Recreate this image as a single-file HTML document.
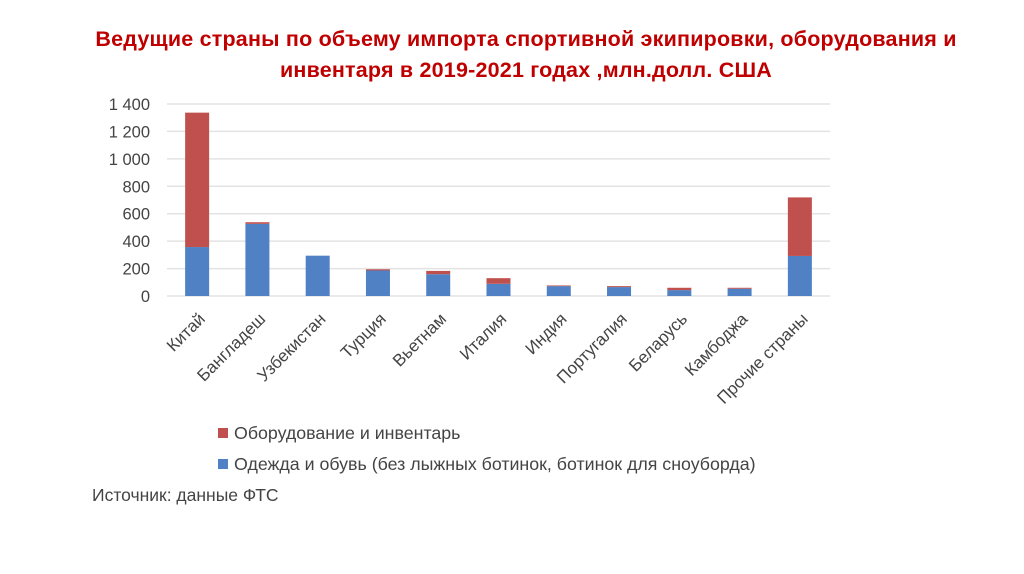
<!DOCTYPE html>
<html><head><meta charset="utf-8">
<style>
body{margin:0;width:1024px;height:574px;background:#fff;overflow:hidden;font-family:"Liberation Sans","DejaVu Sans",sans-serif;position:relative}
.title{position:absolute;left:0;width:1052px;top:24px;text-align:center;color:#c00000;font-weight:bold;font-size:21.5px;line-height:31px;letter-spacing:0.2px}
.leg{position:absolute;left:218px;font-size:17.8px;color:#444}
.leg span{display:inline-block;width:10px;height:10px;margin-right:6px;vertical-align:1px}
.src{position:absolute;left:92px;top:485px;font-size:17.5px;color:#444}
</style></head><body>
<div class="title">Ведущие страны по объему импорта спортивной экипировки, оборудования и<br>инвентаря в 2019-2021 годах ,млн.долл. США</div>
<svg id="chart" width="1024" height="420" style="position:absolute;left:0;top:0"></svg>
<div class="leg" style="top:423px"><span style="background:#c0504d"></span>Оборудование и инвентарь</div>
<div class="leg" style="top:454px"><span style="background:#4f81c4"></span>Одежда и обувь (без лыжных ботинок, ботинок для сноуборда)</div>
<div class="src">Источник: данные ФТС</div>
<script>
const categories=["Китай","Бангладеш","Узбекистан","Турция","Вьетнам","Италия","Индия","Португалия","Беларусь","Камбоджа","Прочие страны"];
const clothing=[357,526,294,186,159,89,72,65,43,53,292];
const equipment=[980,12,0,9,24,41,5,7,17,7,427];
const ticks=[0,200,400,600,800,1000,1200,1400];
const tickLabels=["0","200","400","600","800","1 000","1 200","1 400"];
const NS="http://www.w3.org/2000/svg";
const svg=document.getElementById('chart');
const x0=167,x1=830,y0=296,y1=104,vmax=1400;
const band=(x1-x0)/categories.length,bw=24;
const y=v=>y0-(v/vmax)*(y0-y1);
const xc=i=>x0+band*(i+0.5);
function mk(t,a){const e=document.createElementNS(NS,t);for(const k in a)e.setAttribute(k,a[k]);svg.appendChild(e);return e;}
ticks.forEach((t,i)=>{
  const g=mk('line',{x1:x0,x2:x1,y1:y(t),y2:y(t),stroke:'#e3e3e3','stroke-width':1.5});
  
  
  const l=mk('text',{x:150,y:y(t)+6,'text-anchor':'end','font-size':16.5,fill:'#444'});
  l.textContent=tickLabels[i];
  
  
});
categories.forEach((c,i)=>{
  const b=mk('rect',{x:xc(i)-bw/2,y:y(clothing[i]),width:bw,height:y0-y(clothing[i]),fill:'#4f81c4'});
  
  
  const tot=clothing[i]+equipment[i];
  const r=mk('rect',{x:xc(i)-bw/2,y:y(tot),width:bw,height:y(clothing[i])-y(tot),fill:'#c0504d'});
  
  
  const t=mk('text',{x:0,y:0,'text-anchor':'end','font-size':17,fill:'#444',transform:`translate(${xc(i)+9},${y0+24}) rotate(-45)`});
  t.textContent=c;
  
  
});
</script>
</body></html>
